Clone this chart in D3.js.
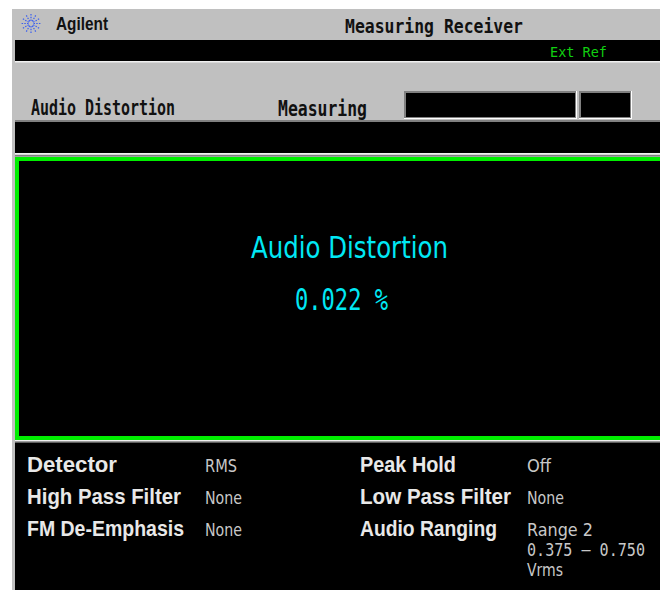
<!DOCTYPE html>
<html lang="en">
<head>
  <meta charset="UTF-8" />
  <title>Agilent Measuring Receiver - Audio Distortion</title>
  <script src="https://d3js.org/d3.v7.min.js"></script>
  <style>
    body { margin: 0; background: #fff; }
    svg { display: block; }
  </style>
</head>
<body>
  <svg id="screen"></svg>

  <script>
    // screen content
    const brand = "Agilent";
    const instrument = "Measuring Receiver";
    const refStatus = "Ext Ref";
    const measurement = "Audio Distortion";
    const stateText = "Measuring";
    const readingValue = 0.022;
    const readingUnit = "%";

    const leftLabels = ["Detector", "High Pass Filter", "FM De-Emphasis"];
    const leftValues = [["RMS"], ["None"], ["None"]];
    const rightLabels = ["Peak Hold", "Low Pass Filter", "Audio Ranging"];
    const rightValues = [["Off"], ["None"], ["Range 2", "0.375 \u2013 0.750", "Vrms"]];

    const W = 660, H = 590;
    const svg = d3.select("#screen").attr("width", W).attr("height", H);

    const gray = "#c0c0c0";
    const green = "#00ee00";
    const cyan = "#00e8f4";

    // text helper: stretch to the measured width
    function txt(x, y, s, opt) {
      const t = svg.append("text")
        .attr("x", x).attr("y", y)
        .attr("fill", opt.fill)
        .attr("font-family", opt.family)
        .attr("font-size", opt.size)
        .attr("font-weight", opt.weight || "normal")
        .text(s);
      if (opt.len) t.attr("textLength", opt.len).attr("lengthAdjust", "spacingAndGlyphs");
      return t;
    }

    // frame
    svg.append("rect").attr("x", 12).attr("y", 9).attr("width", W - 12).attr("height", H - 9).attr("fill", gray);

    // title bar
    const logo = svg.append("g").attr("transform", "translate(31,23.5)");
    d3.range(12).forEach(i => {
      const a = i * Math.PI / 6;
      logo.append("line")
        .attr("x1", Math.cos(a) * 2.5).attr("y1", Math.sin(a) * 2.5)
        .attr("x2", Math.cos(a) * 9.5).attr("y2", Math.sin(a) * 9.5)
        .attr("stroke", "#3a5ef0").attr("stroke-width", 1.2)
        .attr("stroke-dasharray", "1.5 1.2");
    });
    txt(56, 30, brand, { fill: "#111", family: "Liberation Sans, Arial, sans-serif", size: 18.5, weight: "bold", len: 52 });
    txt(345, 33, instrument, { fill: "#111", family: "DejaVu Sans Mono, monospace", size: 19, weight: "bold", len: 178 });

    // status bar
    svg.append("rect").attr("x", 15).attr("y", 40).attr("width", W - 15).attr("height", 21).attr("fill", "#000");
    svg.append("rect").attr("x", 15).attr("y", 61).attr("width", W - 15).attr("height", 1.5).attr("fill", "#f0f0f0");
    txt(550, 57, refStatus, { fill: "#10d010", family: "DejaVu Sans Mono, monospace", size: 14, len: 57 });

    // measurement header
    txt(31, 115, measurement, { fill: "#111", family: "DejaVu Sans Mono, monospace", size: 20.5, weight: "bold", len: 144 });
    txt(278, 116, stateText, { fill: "#111", family: "DejaVu Sans Mono, monospace", size: 20.5, weight: "bold", len: 89 });

    // state boxes (inset)
    [[404, 173], [579, 53]].forEach(([x, w]) => {
      svg.append("rect").attr("x", x).attr("y", 91).attr("width", w).attr("height", 28).attr("fill", "#fff");
      svg.append("rect").attr("x", x).attr("y", 91).attr("width", w - 1).attr("height", 27).attr("fill", "#808080");
      svg.append("rect").attr("x", x + 2).attr("y", 93).attr("width", w - 4).attr("height", 24).attr("fill", "#000");
    });

    // message bar
    svg.append("rect").attr("x", 15).attr("y", 120).attr("width", W - 15).attr("height", 2).attr("fill", "#808080");
    svg.append("rect").attr("x", 15).attr("y", 122).attr("width", W - 15).attr("height", 31).attr("fill", "#000");
    svg.append("rect").attr("x", 15).attr("y", 153).attr("width", W - 15).attr("height", 1.5).attr("fill", "#f0f0f0");
    svg.append("rect").attr("x", 15).attr("y", 155).attr("width", W - 15).attr("height", 1.5).attr("fill", "#808080");

    // main display window with green focus frame
    svg.append("rect").attr("x", 17).attr("y", 159).attr("width", W - 15).attr("height", 279)
      .attr("fill", "#000").attr("stroke", green).attr("stroke-width", 4);

    txt(251, 258, measurement, { fill: cyan, family: "DejaVu Sans, sans-serif", size: 30, len: 197 });
    txt(295, 310, d3.format(".3f")(readingValue) + " " + readingUnit,
      { fill: cyan, family: "DejaVu Sans Mono, monospace", size: 30, len: 93 });

    // parameter panel
    svg.append("rect").attr("x", 15).attr("y", 440).attr("width", W - 15).attr("height", 1.5).attr("fill", "#f0f0f0");
    svg.append("rect").attr("x", 15).attr("y", 441.5).attr("width", W - 15).attr("height", 1.5).attr("fill", "#606060");
    svg.append("rect").attr("x", 15).attr("y", 443).attr("width", W - 15).attr("height", H - 443).attr("fill", "#000");

    const row = d3.scalePoint().domain(d3.range(3)).range([472, 536]);
    const lineStep = 20;

    const leftLen = [90, 154, 157];
    const rightLen = [96, 151, 137];
    const valueLen = { "RMS": 32, "None": 37, "Off": 24, "Range 2": 66, "Vrms": 36 };

    function column(labels, values, lx, vx, lens) {
      labels.forEach((l, i) => {
        txt(lx, row(i), l, { fill: "#e8e8e8", family: "Liberation Sans, Arial, sans-serif", size: 22, weight: "bold", len: lens[i] });
        values[i].forEach((v, j) => {
          const isNum = /\d\.\d/.test(v);
          txt(vx, row(i) + j * lineStep, v, {
            fill: "#c8c8c8",
            family: isNum ? "DejaVu Sans Mono, monospace" : "DejaVu Sans Condensed, DejaVu Sans, sans-serif",
            size: 17,
            len: isNum ? 118 : valueLen[v]
          });
        });
      });
    }
    column(leftLabels, leftValues, 27, 205, leftLen);
    column(rightLabels, rightValues, 360, 527, rightLen);
  </script>
</body>
</html>
